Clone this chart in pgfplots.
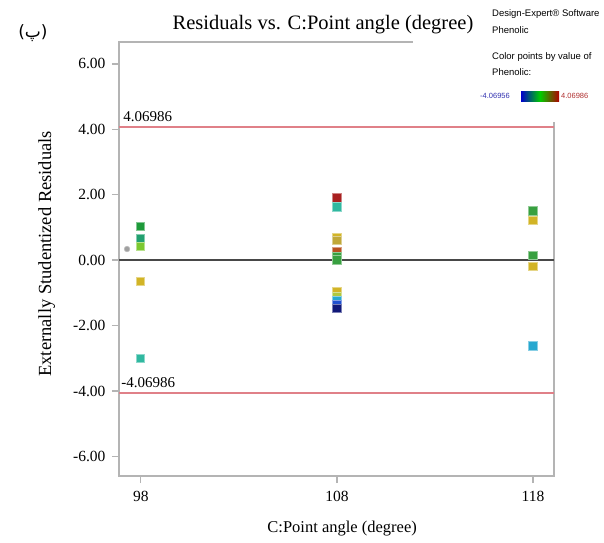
\documentclass[border=0pt]{standalone}
\usepackage{pgfplots}
\pgfplotsset{compat=1.18}
\usepackage{pgfplotstable}
\usepackage{fontspec}
\setmainfont{Liberation Serif}
\newfontfamily\legendfont{Liberation Sans}
\newfontfamily\arabicfont[Script=Arabic]{DejaVu Sans}
\TeXXeTstate=1

\definecolor{framegray}{HTML}{B4B4B4}
\definecolor{zerogray}{HTML}{484848}
\definecolor{limred}{HTML}{E08088}
\definecolor{ptgray}{HTML}{A0A0A0}
\definecolor{cdg}{HTML}{1E9A3A}
\definecolor{ctg}{HTML}{22A070}
\definecolor{cyg}{HTML}{7CC830}
\definecolor{cye}{HTML}{D2B426}
\definecolor{col}{HTML}{C0A838}
\definecolor{ccy}{HTML}{30B8A0}
\definecolor{crd}{HTML}{A82020}
\definecolor{cor}{HTML}{B85020}
\definecolor{cgn}{HTML}{38A040}
\definecolor{cyb}{HTML}{B0C840}
\definecolor{ccb}{HTML}{28A8D0}
\definecolor{cbl}{HTML}{2050D0}
\definecolor{cnv}{HTML}{101878}
\definecolor{legblue}{HTML}{3030B0}
\definecolor{legred}{HTML}{B03030}

% residuals per run: point angle, externally studentized residual, colour class
\pgfplotstableread{
x    y      c
98   1.02   dg
98   0.66   tg
98   0.41   yg
98  -0.66   ye
98  -3.00   cy
108  1.90   rd
108  1.62   cy
108  0.70   ye
108  0.60   ol
108  0.26   or
108  0.10   gn
108  0.00   gn
108 -0.97   ye
108 -1.12   yb
108 -1.24   cb
108 -1.37   bl
108 -1.47   nv
118  1.50   gn
118  1.22   ye
118  0.14   gn
118 -0.20   ye
118 -2.62   cb
}\residuals

\begin{document}
\begin{tikzpicture}
\path[use as bounding box] (-119pt,-66pt) rectangle (485pt,476pt);
\begin{axis}[
  scale only axis, width=435pt, height=434pt,
  xmin=96.89, xmax=119.07, ymin=-6.6, ymax=6.67,
  axis line style={draw=framegray, line width=1.6pt},
  xtick={98,108,118}, ytick={-6,-4,...,6},
  tick align=outside, xtick pos=bottom, ytick pos=left,
  major tick length=7pt,
  every tick/.style={draw=framegray, line width=1.3pt},
  /pgf/number format/assume math mode=true,
  yticklabel style={/pgf/number format/fixed, /pgf/number format/precision=2, /pgf/number format/fixed zerofill, xshift=-3pt},
  xticklabel style={yshift=-5pt},
  ticklabel style={font=\fontsize{15.5}{18}\selectfont},
  xlabel={C:Point angle (degree)},
  ylabel={Externally Studentized Residuals},
  every axis x label/.style={at={(axis description cs:0.513,-0.12)}, anchor=center, font=\fontsize{16.5}{19}\selectfont},
  every axis y label/.style={at={(axis description cs:-0.166,0.512)}, anchor=center, rotate=90, font=\fontsize{18.5}{21}\selectfont},
  scatter/classes={
    dg={mark=square*, fill=cdg, draw=cdg!55!white},
    tg={mark=square*, fill=ctg, draw=ctg!55!white},
    yg={mark=square*, fill=cyg, draw=cyg!55!white},
    ye={mark=square*, fill=cye, draw=cye!55!white},
    ol={mark=square*, fill=col, draw=col!55!white},
    cy={mark=square*, fill=ccy, draw=ccy!55!white},
    rd={mark=square*, fill=crd, draw=crd!55!white},
    or={mark=square*, fill=cor, draw=cor!55!white},
    gn={mark=square*, fill=cgn, draw=cgn!55!white},
    yb={mark=square*, fill=cyb, draw=cyb!55!white},
    cb={mark=square*, fill=ccb, draw=ccb!55!white},
    bl={mark=square*, fill=cbl, draw=cbl!55!white},
    nv={mark=square*, fill=cnv, draw=cnv!55!white}
  },
]
% zero line and outlier limits
\addplot[draw=zerogray, line width=1.9pt] coordinates {(96.89,0) (119.07,0)};
\addplot[draw=limred, line width=1.6pt] coordinates {(96.89,4.06986) (119.07,4.06986)};
\addplot[draw=limred, line width=1.6pt] coordinates {(96.89,-4.06986) (119.07,-4.06986)};
\node[anchor=base west, inner sep=0pt, font=\fontsize{15}{18}\selectfont] at ([yshift=6pt]axis cs:97.1,4.06986) {4.06986};
\node[anchor=base west, inner sep=0pt, font=\fontsize{15}{18}\selectfont] at ([yshift=6pt]axis cs:97.0,-4.06986) {-4.06986};
% excluded run
\addplot[only marks, mark=*, mark size=2.8pt, fill=ptgray, draw=ptgray!70!white, line width=0.6pt] coordinates {(97.3,0.34)};
% runs coloured by Phenolic
\addplot[scatter, only marks, scatter src=explicit symbolic, mark size=4.2pt, line width=1pt]
  table[x=x, y=y, meta=c] {\residuals};
\end{axis}
% corner panel with software note and colour key
\fill[white] (294pt,354pt) rectangle (486pt,477pt);
\node[font=\fontsize{20.5}{24}\selectfont, anchor=center] at (204pt,451pt) {Residuals vs. C:Point angle (degree)};
\node[font=\arabicfont\fontsize{17}{20}\selectfont, anchor=center] at (-86pt,443pt) {\beginR(پ)\endR};
\begin{scope}[every node/.style={anchor=west, inner sep=0pt, font=\legendfont\fontsize{9.5}{11}\selectfont}]
  \node at (373pt,462pt) {Design-Expert® Software};
  \node at (373pt,446pt) {Phenolic};
  \node at (373pt,419pt) {Color points by value of};
  \node at (373pt,404pt) {Phenolic:};
  \node[text=legblue, font=\legendfont\fontsize{7.5}{9}\selectfont] at (361pt,380pt) {-4.06956};
  \node[text=legred, font=\legendfont\fontsize{7.5}{9}\selectfont] at (442pt,380pt) {4.06986};
\end{scope}
\shade[left color=blue!80!black, right color=green!80!black] (402pt,375pt) rectangle (421pt,385pt);
\shade[left color=green!80!black, right color=red!70!black] (421pt,375pt) rectangle (440pt,385pt);
\end{tikzpicture}
\end{document}
